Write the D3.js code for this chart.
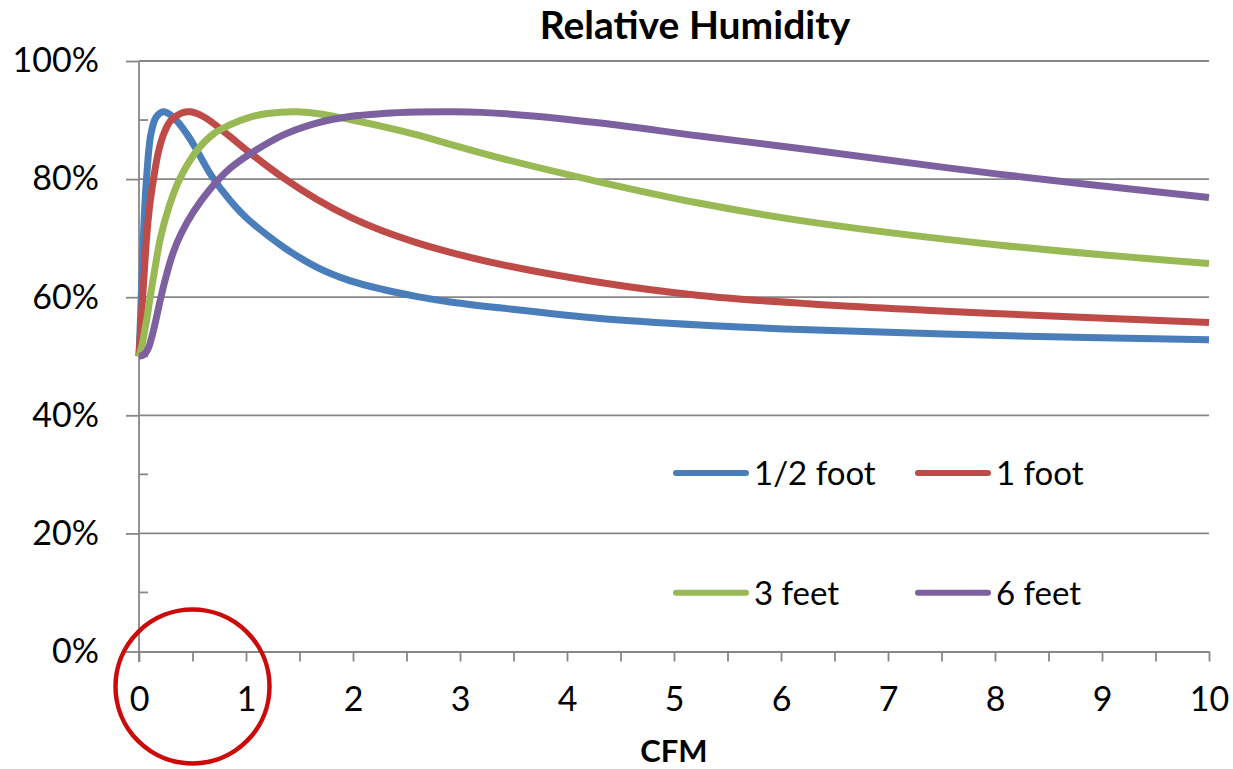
<!DOCTYPE html>
<html>
<head>
<meta charset="utf-8">
<script src="https://cdn.jsdelivr.net/npm/d3@7"></script>
<style>
  html, body { margin: 0; padding: 0; background: #fff; }
  svg { display: block; }
  text { font-family: Lato, "Open Sans", sans-serif; fill: #000; }
</style>
</head>
<body>
<svg id="chart" width="1233" height="769"></svg>
<script>
// Relative humidity (%) versus airflow (CFM) for four distances.
const seriesNames = ["1/2 foot", "1 foot", "3 feet", "6 feet"];
const seriesColors = ["#4a7ebb", "#be4b48", "#98b954", "#7d60a0"];

const halfFootCfm = [0, 0.015, 0.03, 0.05, 0.07, 0.11, 0.16, 0.23, 0.3, 0.38, 0.46, 0.54, 0.68, 0.85, 1.0, 1.35, 1.66, 1.97, 2.28, 2.6, 2.91, 3.37, 4.31, 5.24, 6.25, 8.05, 10];
const halfFootRh  = [50, 57, 65, 74, 80, 87.5, 90.5, 91.4, 90.8, 89.3, 87.3, 84.9, 80.5, 76.4, 73.5, 68.5, 65.1, 62.8, 61.3, 60.1, 59.2, 58.2, 56.4, 55.3, 54.5, 53.5, 52.8];

const oneFootCfm = [0, 0.015, 0.034, 0.05, 0.072, 0.1, 0.14, 0.18, 0.23, 0.28, 0.32, 0.4, 0.48, 0.6, 0.69, 0.85, 1.04, 1.35, 1.66, 1.97, 2.28, 2.6, 2.91, 3.37, 4.31, 5.24, 6.25, 8.05, 10];
const oneFootRh  = [50, 54.5, 60, 64.5, 70.3, 75.5, 80.5, 84.5, 87.6, 89.5, 90.3, 91.2, 91.4, 90.6, 89.5, 87.2, 84.4, 80.2, 76.6, 73.6, 71.2, 69.2, 67.6, 65.6, 62.5, 60.3, 58.9, 57.2, 55.7];

const threeFeetCfm = [0, 0.03, 0.05, 0.075, 0.1, 0.15, 0.2, 0.28, 0.38, 0.54, 0.7, 0.85, 1.04, 1.2, 1.47, 1.66, 1.97, 2.28, 2.6, 2.91, 3.37, 4.31, 5.24, 6.25, 8.05, 10];
const threeFeetRh  = [50, 52, 54, 56.5, 59.5, 65, 70, 75.3, 80, 84.8, 87.7, 89.2, 90.5, 91.1, 91.4, 91.1, 90.1, 88.9, 87.5, 85.9, 83.6, 79.5, 75.9, 72.8, 68.8, 65.7];

const sixFeetCfm = [0, 0.03, 0.06, 0.09, 0.12, 0.16, 0.2, 0.25, 0.32, 0.4, 0.51, 0.66, 0.85, 1.04, 1.35, 1.66, 1.97, 2.28, 2.6, 2.91, 3.2, 3.68, 4.31, 5.24, 6.25, 8.05, 10];
const sixFeetRh  = [50, 50.1, 50.5, 51.5, 53.3, 56.3, 59.6, 63.3, 67.6, 71, 74.5, 78.2, 81.8, 84.3, 87.5, 89.5, 90.6, 91.1, 91.35, 91.4, 91.3, 90.7, 89.5, 87.3, 85, 80.8, 76.9];

const xMinorTicks = d3.range(0, 10.01, 0.5);
const yTicks = [0, 20, 40, 60, 80, 100];
const yMinorTicks = [10, 30, 50, 70, 90];

const series = [
  { name: seriesNames[0], color: seriesColors[0], cfm: halfFootCfm, rh: halfFootRh },
  { name: seriesNames[1], color: seriesColors[1], cfm: oneFootCfm, rh: oneFootRh },
  { name: seriesNames[2], color: seriesColors[2], cfm: threeFeetCfm, rh: threeFeetRh },
  { name: seriesNames[3], color: seriesColors[3], cfm: sixFeetCfm, rh: sixFeetRh }
];

const svg = d3.select("#chart");
const x = d3.scaleLinear().domain([0, 10]).range([139, 1209]);
const y = d3.scaleLinear().domain([0, 100]).range([651.5, 61]);
const gridColor = "#878787";

// Horizontal gridlines
svg.append("g")
  .selectAll("line")
  .data(yTicks.filter(d => d > 0))
  .join("line")
  .attr("x1", x(0)).attr("x2", x(10))
  .attr("y1", d => y(d)).attr("y2", d => y(d))
  .attr("stroke", gridColor).attr("stroke-width", 1.8);

// Y axis: outward major ticks with labels, inward minor ticks
const yAxis = svg.append("g")
  .attr("transform", `translate(${x(0)},0)`)
  .call(d3.axisLeft(y).tickValues(yTicks).tickFormat(d => d + "%").tickSize(13).tickPadding(27));
yAxis.select(".domain").remove();
yAxis.selectAll(".tick line").attr("stroke", gridColor).attr("stroke-width", 1.8);
yAxis.selectAll(".tick text").attr("font-size", 34).attr("font-family", "Lato").attr("fill", "#000");

svg.append("g")
  .selectAll("line")
  .data(yMinorTicks)
  .join("line")
  .attr("x1", x(0)).attr("x2", x(0) + 9)
  .attr("y1", d => y(d)).attr("y2", d => y(d))
  .attr("stroke", gridColor).attr("stroke-width", 1.8);

svg.append("line")
  .attr("x1", x(0)).attr("x2", x(0))
  .attr("y1", y(100)).attr("y2", y(0) + 10.5)
  .attr("stroke", gridColor).attr("stroke-width", 1.8);

// X axis
const xAxis = svg.append("g")
  .attr("transform", `translate(0,${y(0)})`)
  .call(d3.axisBottom(x).tickValues(xMinorTicks).tickSize(10).tickSizeOuter(0)
    .tickFormat(d => Number.isInteger(d) ? d3.format("d")(d) : ""));
xAxis.select(".domain").attr("stroke", gridColor).attr("stroke-width", 1.8);
xAxis.selectAll(".tick line").attr("stroke", gridColor).attr("stroke-width", 1.8);
xAxis.selectAll(".tick text").attr("font-size", 34).attr("font-family", "Lato").attr("fill", "#000")
  .attr("dy", 0).attr("y", 59);

// Curves (centripetal Catmull-Rom keeps the peaks smooth)
const line = d3.line()
  .x(d => x(d[0]))
  .y(d => y(d[1]))
  .curve(d3.curveCatmullRom.alpha(0.5));

svg.append("g")
  .selectAll("path")
  .data(series)
  .join("path")
  .attr("d", s => line(s.cfm.map((c, i) => [c, s.rh[i]])))
  .attr("fill", "none")
  .attr("stroke", s => s.color)
  .attr("stroke-width", 7)
  .attr("stroke-linejoin", "round");

// Title and axis title
svg.append("text")
  .attr("x", 695).attr("y", 39)
  .attr("text-anchor", "middle")
  .attr("font-size", 39).attr("font-weight", "bold")
  .text("Relative Humidity");

svg.append("text")
  .attr("x", x(5)).attr("y", 762)
  .attr("text-anchor", "middle")
  .attr("font-size", 31).attr("font-weight", "bold")
  .text("CFM");

// Legend (two rows of two)
const legendPos = [[673, 473], [915, 473], [673, 592.7], [915, 592.7]];
const legend = svg.append("g")
  .selectAll("g")
  .data(series)
  .join("g")
  .attr("transform", (s, i) => `translate(${legendPos[i][0]},${legendPos[i][1]})`);
legend.append("line")
  .attr("x1", 3).attr("x2", 73)
  .attr("stroke", s => s.color).attr("stroke-width", 6).attr("stroke-linecap", "round");
legend.append("text")
  .attr("x", 81).attr("y", 0).attr("dy", "0.36em")
  .attr("font-size", 33)
  .text(s => s.name);

// Highlight circle around the low-airflow region
svg.append("circle")
  .attr("cx", x(0.5)).attr("cy", y(0) + 35)
  .attr("r", 77)
  .attr("fill", "none")
  .attr("stroke", "#cc0a0a")
  .attr("stroke-width", 4.5);
</script>
</body>
</html>
